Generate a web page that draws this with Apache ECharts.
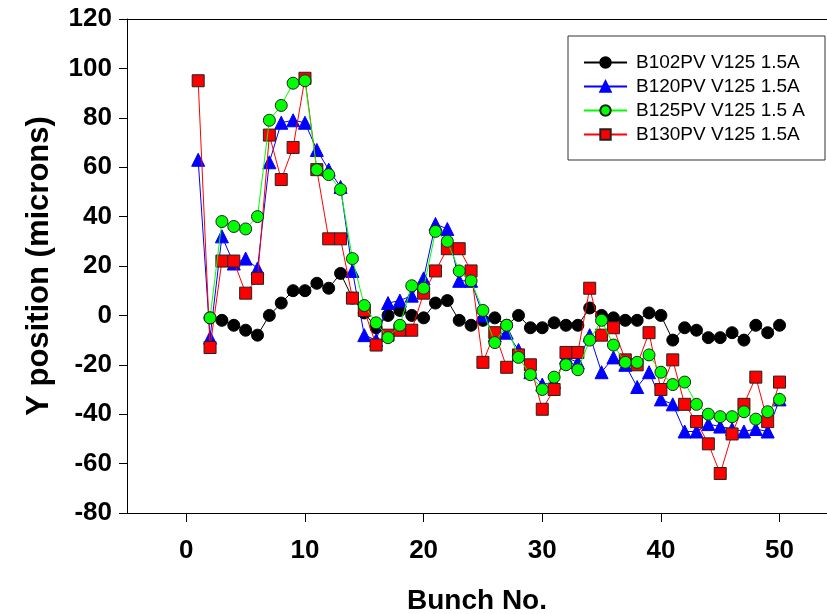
<!DOCTYPE html>
<html>
<head>
<meta charset="utf-8">
<script src="https://cdn.jsdelivr.net/npm/echarts@6/dist/echarts.min.js"></script>
<style>
  html, body { margin: 0; padding: 0; background: #fff; }
  #chart { width: 827px; height: 614px; }
</style>
</head>
<body>
<div id="chart"></div>
<script>
// bunch numbers 1..50
var bunch = [1, 2, 3, 4, 5, 6, 7, 8, 9, 10, 11, 12, 13, 14, 15, 16, 17, 18, 19, 20,
  21, 22, 23, 24, 25, 26, 27, 28, 29, 30, 31, 32, 33, 34, 35, 36, 37, 38, 39, 40,
  41, 42, 43, 44, 45, 46, 47, 48, 49, 50]

// Y position (microns)
var b102 = [null, -1, -2, -4, -6, -8, 0, 5, 10, 10, 13, 11, 17, 7, 1, -5, 0, 2, 0, -1,
  5, 6, -2, -4, -2, -1, -4, 0, -5, -5, -3, -4, -4, 3, 0, -1, -2, -2, 1, 0,
  -10, -5, -6, -9, -9, -7, -10, -4, -7, -4]
var b120 = [63, -9, 32, 21, 23, 19, 62, 78, 79, 78, 67, 59, 52, 18, -8, -10, 5, 6, 8, 15,
  37, 35, 14, 14, 0, -8, -7, -14, -23, -28, -27, -17, -19, -8, -23, -17, -20, -29, -23, -34,
  -36, -47, -47, -44, -45, -46, -47, -46, -47, -34]
var b125 = [null, -1, 38, 36, 35, 40, 79, 85, 94, 95, 59, 57, 51, 23, 4, -3, -9, -4, 12, 11,
  34, 30, 18, 14, 2, -11, -4, -17, -24, -30, -25, -20, -22, -10, -2, -12, -19, -19, -16, -23,
  -28, -27, -36, -40, -41, -41, -39, -42, -39, -34]
var b130 = [95, -13, 22, 22, 9, 15, 73, 55, 68, 96, 59, 31, 31, 7, 2, -12, -8, -6, -6, 9,
  18, 27, 27, 18, -19, -7, -21, -16, -20, -38, -30, -15, -15, 11, -8, -5, -18, -20, -7, -30,
  -18, -36, -43, -52, -64, -48, -36, -25, -43, -27]

var xTicks = [0, 10, 20, 30, 40, 50]

function pairs(vals) {
  return bunch.map(function(n, i) { return [n, vals[i]] })
}

var chart = echarts.init(document.getElementById('chart'))

var boldTick = { fontFamily: 'Liberation Sans, Arial', fontWeight: 'bold', fontSize: 26, color: '#000' }

var option = {
  animation: false,
  backgroundColor: '#fff',
  grid: { left: 127, right: 0, top: 19, bottom: 101, containLabel: false, outerBoundsMode: 'none' },
  legend: {
    orient: 'vertical',
    left: 568,
    top: 36,
    padding: [17, 20, 16, 15],
    itemGap: 5,
    itemWidth: 43,
    itemHeight: 13,
    borderColor: '#333',
    borderWidth: 1,
    data: ['B102PV V125 1.5A', 'B120PV V125 1.5A', 'B125PV V125 1.5 A', 'B130PV V125 1.5A'],
    textStyle: { fontFamily: 'Liberation Sans, Arial', fontSize: 19, color: '#000', padding: [0, 0, 0, 4] }
  },
  xAxis: [{
    type: 'value',
    min: -5,
    max: 54,
    name: 'Bunch No.',
    nameLocation: 'middle',
    nameGap: 74,
    nameTextStyle: { fontFamily: 'Liberation Sans, Arial', fontWeight: 'bold', fontSize: 28, color: '#000' },
    splitLine: { show: false },
    axisLine: { onZero: false, lineStyle: { color: '#000', width: 1 } },
    axisTick: { inside: false, length: 9, customValues: xTicks, lineStyle: { color: '#000' } },
    axisLabel: Object.assign({ margin: 25, customValues: xTicks }, boldTick)
  }, {
    type: 'value',
    position: 'top',
    min: -5,
    max: 54,
    splitLine: { show: false },
    axisLine: { show: true, onZero: false, lineStyle: { color: '#000', width: 1 } },
    axisTick: { show: false },
    axisLabel: { show: false }
  }],
  yAxis: {
    type: 'value',
    min: -80,
    max: 120,
    interval: 20,
    name: 'Y position (microns)',
    nameLocation: 'middle',
    nameGap: 72,
    nameTextStyle: { fontFamily: 'Liberation Sans, Arial', fontWeight: 'bold', fontSize: 31, color: '#000' },
    splitLine: { show: false },
    axisLine: { show: true, onZero: false, lineStyle: { color: '#000', width: 1 } },
    axisTick: { show: true, inside: false, length: 8, lineStyle: { color: '#000' } },
    axisLabel: Object.assign({ margin: 15 }, boldTick)
  },
  series: [
    {
      name: 'B102PV V125 1.5A',
      type: 'line',
      z: 2,
      data: pairs(b102),
      symbol: 'circle',
      symbolSize: 12,
      lineStyle: { color: '#000', width: 1 },
      itemStyle: { color: '#000', borderColor: '#000', borderWidth: 1 }
    },
    {
      name: 'B120PV V125 1.5A',
      type: 'line',
      z: 3,
      data: pairs(b120),
      symbol: 'triangle',
      symbolSize: 13,
      lineStyle: { color: '#0000ff', width: 1 },
      itemStyle: { color: '#0000ff', borderColor: '#0000ff', borderWidth: 1 }
    },
    {
      name: 'B125PV V125 1.5 A',
      type: 'line',
      z: 5,
      data: pairs(b125),
      symbol: 'circle',
      symbolSize: 12,
      lineStyle: { color: '#00ff00', width: 1 },
      itemStyle: { color: '#00ff00', borderColor: '#222', borderWidth: 1 }
    },
    {
      name: 'B130PV V125 1.5A',
      type: 'line',
      z: 4,
      data: pairs(b130),
      symbol: 'rect',
      symbolSize: 12,
      lineStyle: { color: '#ff0000', width: 1 },
      itemStyle: { color: '#ff0000', borderColor: '#222', borderWidth: 1 }
    }
  ]
}

chart.setOption(option)
</script>
</body>
</html>
